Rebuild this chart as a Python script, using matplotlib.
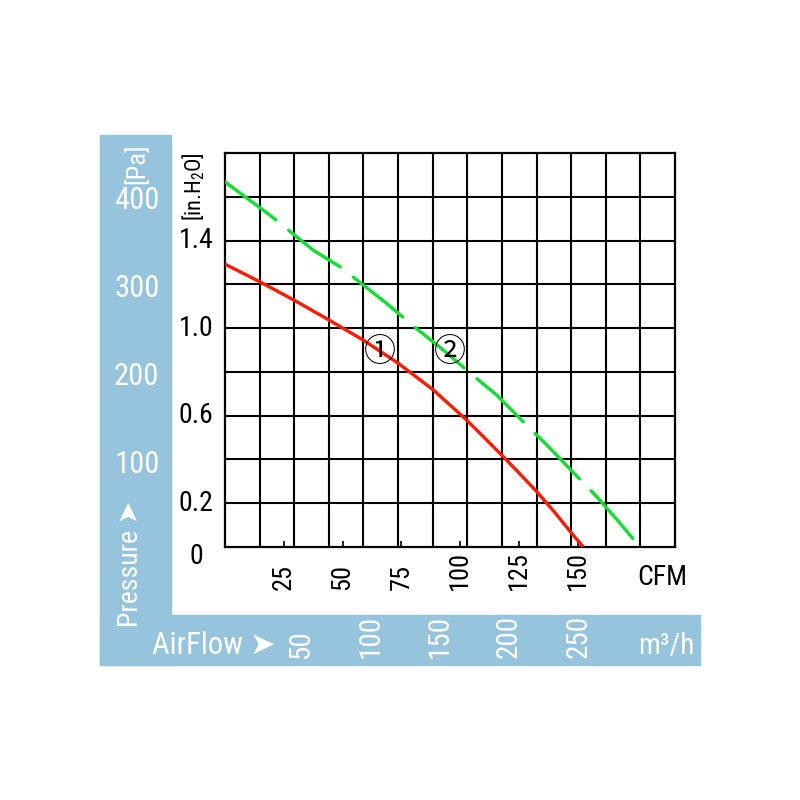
import matplotlib
matplotlib.use("Agg")
import matplotlib.pyplot as plt
from matplotlib import font_manager
from matplotlib.patches import Rectangle
from matplotlib.transforms import offset_copy

# pick a condensed sans if there is one, else plain Liberation Sans
installed = {f.name for f in font_manager.fontManager.ttflist}
narrow = [f.name for f in font_manager.fontManager.ttflist
          if f.stretch in ("condensed", "semi-condensed", "extra-condensed")
          and "Sans" in f.name and "Mono" not in f.name]
font = None
for cand in ["Liberation Sans Narrow", "Arial Narrow", "Roboto Condensed",
             "DejaVu Sans Condensed", "Open Sans Condensed"] + narrow:
    if cand in installed:
        font = cand
        break
scale = 1.0
if font is None:
    font = "Liberation Sans"
    scale = 0.86

plt.rcParams["font.family"] = [font, "DejaVu Sans"]
plt.rcParams["mathtext.fontset"] = "custom"
plt.rcParams["mathtext.rm"] = font

M3H_PER_CFM = 1.699
PA_PER_INH2O = 249.0

# curve 1 (red, solid): airflow CFM / static pressure inH2O
fan1_cfm = [0, 14.9, 29.8, 44.2, 58.8, 73.7, 88.6, 102.7, 110.0, 117.6, 125.0, 132.5, 140.0, 147.4, 152.3]
fan1_inh2o = [1.292, 1.211, 1.125, 1.037, 0.945, 0.839, 0.717, 0.580, 0.502, 0.420, 0.338, 0.253, 0.160, 0.062, 0.0]

# curve 2 (green, dashed)
fan2_cfm = [0, 19.1, 37.5, 48.9, 68.7, 80.0, 92.8, 102.7, 115.5, 126.0, 136.8, 147.0, 158.0, 167.0, 176.4]
fan2_inh2o = [1.668, 1.516, 1.356, 1.280, 1.113, 1.010, 0.900, 0.808, 0.694, 0.580, 0.466, 0.352, 0.230, 0.120, 0.0]

cfm_ticks = [25, 50, 75, 100, 125, 150]
inh2o_labels = [0.2, 0.6, 1.0, 1.4]
pa_labels = [100, 200, 300, 400]
m3h_labels = [50, 100, 150, 200, 250]
m3h_grid = list(range(25, 325, 25))
inh2o_grid = [0.2, 0.4, 0.6, 0.8, 1.0, 1.2, 1.4, 1.6]

band = "#95c4dc"

fig = plt.figure(figsize=(8, 8), dpi=100)

# light blue L-shaped band behind everything
fig.patches.append(Rectangle((0.125, 0.16875), 0.08875, 0.6625,
                             transform=fig.transFigure, color=band, zorder=-5))
fig.patches.append(Rectangle((0.125, 0.16875), 0.75, 0.0625,
                             transform=fig.transFigure, color=band, zorder=-5))

ax = fig.add_axes([0.28125, 0.31625, 0.5625, 0.4925])
ax.set_xlim(0, 325 / M3H_PER_CFM)
ax.set_ylim(0, 1.8)

for m in m3h_grid:
    ax.axvline(m / M3H_PER_CFM, color="black", lw=1.5, zorder=1)
for p in inh2o_grid:
    ax.axhline(p, color="black", lw=1.5, zorder=1)
for s in ax.spines.values():
    s.set_linewidth(1.6)

ax.plot(fan1_cfm, fan1_inh2o, color="#ff1a00", lw=2.4, zorder=3,
        solid_capstyle="butt", solid_joinstyle="round")
ax.plot(fan2_cfm, fan2_inh2o, color="#10e030", lw=2.4, zorder=3,
        linestyle=(0, (19, 5)), dash_capstyle="round")

circ = ["Noto Sans CJK JP", "DejaVu Sans"]
ax.text(65.9, 0.89, "①", family=circ, fontsize=23, ha="center",
        va="center", zorder=4)
ax.text(95.6, 0.89, "②", family=circ, fontsize=23, ha="center",
        va="center", zorder=4)

# CFM axis
ax.set_xticks(cfm_ticks)
ax.set_xticklabels([])
ax.set_yticks([])
ax.tick_params(axis="x", direction="in", length=4, width=1.2)
xt = ax.get_xaxis_transform()
for v in cfm_ticks:
    ax.text(v, -0.109, str(v), transform=xt, rotation=90, fontsize=19 * scale,
            ha="center", va="bottom")
ax.text(0.971, -0.077, "CFM", transform=ax.transAxes, fontsize=20 * scale,
        ha="center", va="center")

# inH2O axis
yt = ax.get_yaxis_transform()
for v in inh2o_labels:
    ax.text(-0.025, v, f"{v:.1f}", transform=yt, fontsize=20 * scale,
            ha="right", va="center")
ax.text(-0.064, -0.025, "0", transform=ax.transAxes, fontsize=20 * scale,
        ha="center", va="center")
ax.text(-0.069, 0.915, r"[in.H$_{\mathrm{2}}$O]", transform=ax.transAxes,
        fontsize=16 * scale, rotation=90, ha="center", va="center")

# Pa labels on the band
yt_pa = offset_copy(yt, fig=fig, y=-5, units="dots")
for v in pa_labels:
    ax.text(-0.196, v / PA_PER_INH2O, str(v), transform=yt_pa,
            fontsize=22 * scale, color="white", ha="center", va="center")
ax.text(-0.196, 0.972, "[Pa]", transform=ax.transAxes, fontsize=19 * scale,
        color="white", rotation=90, ha="center", va="center")
fig.text(0.1625, 0.295, "Pressure ➤", fontsize=20 * scale, color="white",
         rotation=90, ha="center", va="center")

# m3/h labels on the band
xt_m3h = offset_copy(xt, fig=fig, x=7, units="dots")
for v in m3h_labels:
    ax.text(v / M3H_PER_CFM, -0.282, str(v), transform=xt_m3h, rotation=90,
            fontsize=21 * scale, color="white", ha="center", va="bottom")
fig.text(0.19, 0.193, "AirFlow ➤", fontsize=22 * scale, color="white",
         ha="left", va="center")
fig.text(0.868, 0.193, "m³/h", fontsize=21 * scale, color="white",
         ha="right", va="center")

fig.savefig("out.png", dpi=100, facecolor="white")
